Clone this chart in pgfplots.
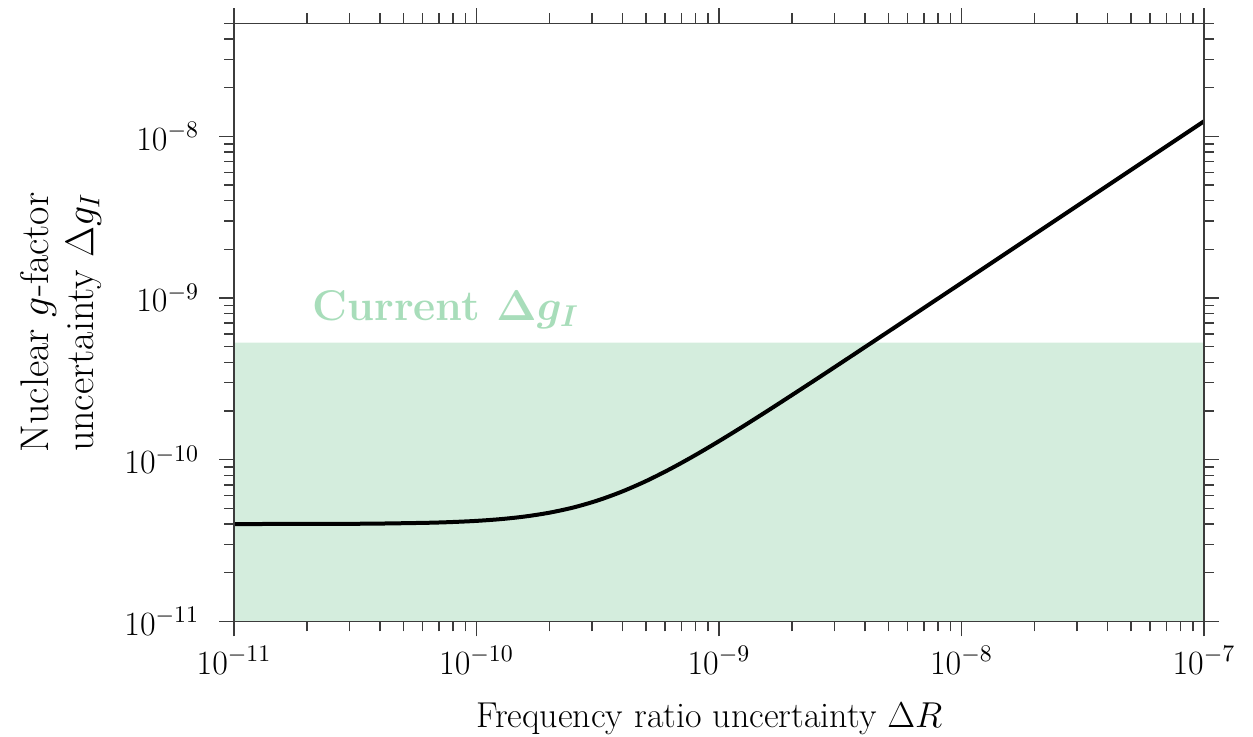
\RequirePackage{fix-cm}
\documentclass[border=0pt]{standalone}
\usepackage{fontspec}
\usepackage{pgfplots}
\pgfplotsset{compat=1.18}
\definecolor{shade}{RGB}{212,237,221}
\definecolor{shadetext}{RGB}{168,221,186}
\definecolor{axgray}{RGB}{60,60,60}
\begin{document}
\begin{tikzpicture}
\begin{axis}[
  width=485pt, height=299pt, scale only axis,
  xmode=log, ymode=log,
  xmin=1e-11, xmax=1e-7, ymin=1e-11, ymax=5e-8,
  axis line style={axgray, line width=0.7pt},
  tick style={axgray, line width=0.7pt},
  tick align=outside,
  major tick length=7.5pt, minor tick length=5pt,
  tick label style={font=\fontsize{17}{20}\selectfont},
  yticklabel style={xshift=-6.5pt},
  xticklabel style={yshift=-1.5pt},
  xlabel={Frequency ratio uncertainty $\Delta R$},
  ylabel={Nuclear $g$-factor\\uncertainty $\Delta g_I$},
  xlabel style={font=\fontsize{18}{20}\selectfont, at={(axis description cs:0.49,-0.1773)}, anchor=base, inner sep=0pt},
  ylabel style={font=\fontsize{20}{22.5}\selectfont, align=center, at={(axis description cs:-0.2206,0.5)}, anchor=north, rotate=0, inner sep=0pt},
  xticklabel pos=bottom, yticklabel pos=left,
  axis on top,
  clip=true,
]
\addplot[fill=shade, draw=none] coordinates {(1e-11,1e-11) (1e-7,1e-11) (1e-7,5.3e-10) (1e-11,5.3e-10) (1e-11,1e-11)};
\addplot[black, line width=2pt, smooth] coordinates {
(1e-11,4.002e-11)
(3.162e-11,4.019e-11)
(3.981e-11,4.030e-11)
(6.310e-11,4.076e-11)
(7.943e-11,4.12e-11)
(1e-10,4.188e-11)
(1.259e-10,4.294e-11)
(1.585e-10,4.457e-11)
(1.995e-10,4.703e-11)
(2.512e-10,5.069e-11)
(3.162e-10,5.602e-11)
(3.981e-10,6.354e-11)
(5.012e-10,7.391e-11)
(6.310e-10,8.788e-11)
(7.943e-10,1.0631e-10)
(1e-9,1.3029e-10)
(1.259e-9,1.6115e-10)
(1.585e-9,2.0056e-10)
(1.995e-9,2.5062e-10)
(2.512e-9,3.1403e-10)
(3.162e-9,3.9415e-10)
(3.981e-9,4.9526e-10)
(5.012e-9,6.227e-10)
(6.310e-9,7.834e-10)
(7.943e-9,9.857e-10)
(1e-8,1.2406e-9)
(3.162e-8,3.921e-9)
(1e-7,1.24e-8)
};
\node[anchor=base west, inner sep=0pt, text=shadetext, font=\fontsize{21.5}{24}\selectfont\bfseries\boldmath] at (axis cs:2.1e-11,7.3e-10) {Current $\Delta g_I$};
\end{axis}
\pgfresetboundingbox
\path ([shift={(-117pt,-57.7pt)}]current axis.south west) rectangle ([shift={(24.5pt,11.7pt)}]current axis.north east);
\end{tikzpicture}
\end{document}
